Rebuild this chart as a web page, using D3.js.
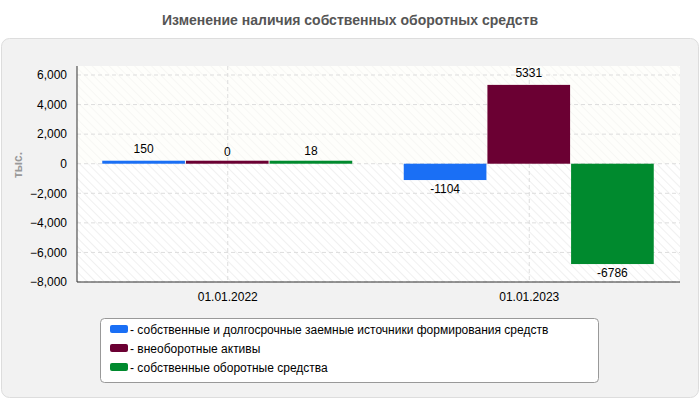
<!DOCTYPE html>
<html><head><meta charset="utf-8">
<script src="https://cdn.jsdelivr.net/npm/d3@7"></script>
<style>body{margin:0;background:#fff;font-family:Arial,"Liberation Sans",sans-serif}</style>
</head><body><svg id="c" width="700" height="400"></svg>
<script>
const categories = ["01.01.2022", "01.01.2023"];
const seriesNames = ["- собственные и долгосрочные заемные источники формирования средств", "- внеоборотные активы", "- собственные оборотные средства"];
const seriesValues = [[150, -1104], [0, 5331], [18, -6786]];
const colors = ["#1a6ff5", "#6b0033", "#008a2e"];
const yTicks = [-8000, -6000, -4000, -2000, 0, 2000, 4000, 6000];

const svg = d3.select("#c");
const defs = svg.append("defs");
const pat = defs.append("pattern").attr("id","h").attr("patternUnits","userSpaceOnUse").attr("width",6).attr("height",6).attr("patternTransform","rotate(-45)");
pat.append("rect").attr("width",6).attr("height",6).attr("fill","#fff");
pat.append("line").attr("x1",0).attr("y1",0).attr("x2",0).attr("y2",6).attr("stroke","#f0f0f0").attr("stroke-width",2);

svg.append("text").attr("x",350).attr("y",25).attr("text-anchor","middle").attr("font-size",14).attr("font-weight","bold").attr("fill","#555").text("Изменение наличия собственных оборотных средств");
svg.append("rect").attr("x",1.5).attr("y",38.5).attr("width",697).attr("height",359).attr("rx",8).attr("fill","#f2f2f2").attr("stroke","#ddd");

const L=77,R=680,T=66,B=282;
const y=d3.scaleLinear().domain([-8000,6000]).range([B,75]);
const x=d3.scaleBand().domain(categories).range([L,R]);
const xs=d3.scaleBand().domain(d3.range(3)).range([0,251]);
svg.append("rect").attr("x",L).attr("y",T).attr("width",R-L).attr("height",B-T).attr("fill","url(#h)");
svg.append("rect").attr("x",L).attr("y",T).attr("width",R-L).attr("height",y(0)-T).attr("fill","#fdfdf7").attr("opacity",0.5);
const g=svg.append("g");
yTicks.forEach(t=>g.append("line").attr("x1",L).attr("x2",R).attr("y1",y(t)).attr("y2",y(t)).attr("stroke","#ddd").attr("stroke-dasharray","4,3"));
categories.forEach(c=>g.append("line").attr("x1",x(c)+x.bandwidth()/2).attr("x2",x(c)+x.bandwidth()/2).attr("y1",T).attr("y2",B).attr("stroke","#ddd").attr("stroke-dasharray","4,3"));
const ya=svg.append("g").attr("transform",`translate(${L},0)`).call(d3.axisLeft(y).tickValues(yTicks).tickSize(0).tickPadding(10));
ya.select(".domain").attr("stroke","#333").attr("d",`M0,${T}V${B}`);
ya.selectAll("text").attr("font-size",12).attr("fill","#000").attr("font-family","Arial");
svg.append("line").attr("x1",L).attr("x2",R).attr("y1",B).attr("y2",B).attr("stroke","#333");
categories.forEach(c=>svg.append("text").attr("x",x(c)+x.bandwidth()/2).attr("y",B+19).attr("text-anchor","middle").attr("font-size",12).text(c));
svg.append("text").attr("transform","translate(22,165) rotate(-90)").attr("text-anchor","middle").attr("font-size",12).attr("font-weight","bold").attr("fill","#999").text("тыс.");

seriesValues.forEach((vals,s)=>vals.forEach((v,i)=>{
  const x0=x(categories[i])+x.bandwidth()/2-125.5+xs(s);
  const w=xs.bandwidth()-1;
  const y0=Math.min(y(v),y(0)), h=Math.max(Math.abs(y(v)-y(0)),3);
  svg.append("rect").attr("x",x0).attr("y",v>=0?y0-(h>Math.abs(y(v)-y(0))?h-Math.abs(y(v)-y(0)):0):y(0)).attr("width",w).attr("height",h).attr("fill",colors[s]);
  const ty=v>=0? y(v)-8 : y(v)+13;
  svg.append("text").attr("x",x0+w/2).attr("y",ty).attr("text-anchor","middle").attr("font-size",12).text(v);
}));

svg.append("rect").attr("x",100.5).attr("y",318.5).attr("width",498).attr("height",64).attr("rx",4).attr("fill","#fff").attr("stroke","#999");
seriesNames.forEach((n,i)=>{
  svg.append("rect").attr("x",110).attr("y",325+i*19).attr("width",18).attr("height",8).attr("rx",2).attr("fill",colors[i]);
  svg.append("text").attr("x",130).attr("y",334+i*19).attr("font-size",12).text(n);
});
</script></body></html>
